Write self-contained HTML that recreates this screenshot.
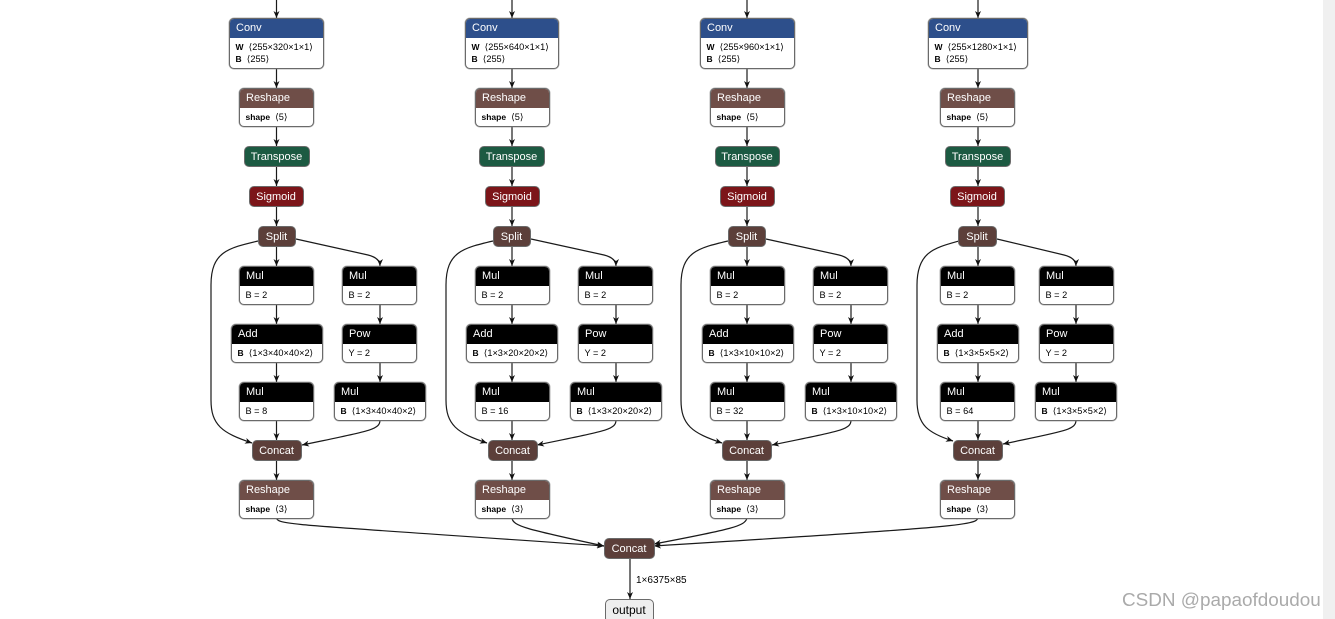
<!DOCTYPE html>
<html><head><meta charset="utf-8"><style>
html,body{margin:0;padding:0;background:#fff}
#r{position:relative;width:1335px;height:619px;overflow:hidden;background:#fff;font-family:"Liberation Sans","DejaVu Sans",sans-serif}
svg{position:absolute;left:0;top:0}
.n{position:absolute;box-sizing:border-box;border:1px solid #6a6a6a;border-radius:5px;background:#fff;overflow:hidden;height:38.5px;width:75px;box-shadow:0 0 0 .5px rgba(120,120,120,.55)}
.n.c{height:50.5px;width:95px}
.h{height:19px;line-height:19px;color:#fff;font-size:11px;padding-left:6px;background:#000}
.b{font-size:9.2px;line-height:12.5px;padding:2.5px 0 0 5.5px;white-space:pre;color:#000}
.b b{font-size:8.5px}
.cv{background:#2d4f8b}.rs{background:#6f4e48}
.p{position:absolute;box-sizing:border-box;border:1px solid #6a6a6a;border-radius:5px;height:20.5px;line-height:20px;text-align:center;color:#fff;font-size:11px;padding-right:1px}
.t{background:#1c5a42}.s{background:#7c1519}.k{background:#5c3f3a}
.o{background:#eee;color:#000;font-size:12px}
</style></head><body><div id="r">
<svg width="1335" height="619" viewBox="0 0 1335 619">
<defs><marker id="a" markerWidth="8" markerHeight="8" refX="7" refY="4" orient="auto" markerUnits="userSpaceOnUse"><path d="M0,1 L7,4 L0,7 L2,4 Z" fill="#111"/></marker></defs>
<g fill="none" stroke="#1a1a1a" stroke-width="1.2" marker-end="url(#a)">
<path d="M276.5,0V18"/><path d="M276.5,68V88"/><path d="M276.5,126V146"/><path d="M276.5,166V186"/><path d="M276.5,206V226"/><path d="M276.5,246V266"/><path d="M296,239 L368,255 Q380,258 380,266"/><path d="M258,241 C228,248 211,252 211,285 V400 C211,425 222,433 252,443"/><path d="M276.5,304V324"/><path d="M380,304V324"/><path d="M276.5,362V382"/><path d="M380,362V382"/><path d="M276.5,420V440"/><path d="M380,420 C380,430 369,431 302,445"/><path d="M276.5,460V480"/>
<path d="M512,0V18"/><path d="M512,68V88"/><path d="M512,126V146"/><path d="M512,166V186"/><path d="M512,206V226"/><path d="M512,246V266"/><path d="M531,239 L604,255 Q616,258 616,266"/><path d="M493,241 C463,248 446,252 446,285 V400 C446,425 457,433 487,443"/><path d="M512,304V324"/><path d="M616,304V324"/><path d="M512,362V382"/><path d="M616,362V382"/><path d="M512,420V440"/><path d="M616,420 C616,430 605,431 537,445"/><path d="M512,460V480"/>
<path d="M747,0V18"/><path d="M747,68V88"/><path d="M747,126V146"/><path d="M747,166V186"/><path d="M747,206V226"/><path d="M747,246V266"/><path d="M766,239 L839,255 Q851,258 851,266"/><path d="M728,241 C698,248 681,252 681,285 V400 C681,425 692,433 722,443"/><path d="M747,304V324"/><path d="M851,304V324"/><path d="M747,362V382"/><path d="M851,362V382"/><path d="M747,420V440"/><path d="M851,420 C851,430 840,431 772,445"/><path d="M747,460V480"/>
<path d="M978,0V18"/><path d="M978,68V88"/><path d="M978,126V146"/><path d="M978,166V186"/><path d="M978,206V226"/><path d="M978,246V266"/><path d="M997,239 L1064,255 Q1076,258 1076,266"/><path d="M959,241 C934,248 917,252 917,285 V400 C917,425 928,433 953,441"/><path d="M978,304V324"/><path d="M1076,304V324"/><path d="M978,362V382"/><path d="M1076,362V382"/><path d="M978,420V440"/><path d="M1076,420 C1076,430 1065,431 1003,444"/><path d="M978,460V480"/>
<path d="M276.5,518 C278,525 290,524 604,546"/><path d="M512,518 C513,526 525,529 604,546"/><path d="M747,518 C745,526 733,529 654,544"/><path d="M978,518 C976,525 960,527 654,546"/><path d="M630,558V599"/>
</g>
<text x="636" y="583" font-size="10" fill="#000" font-family="Liberation Sans, sans-serif">1×6375×85</text>
<rect x="1323" y="0" width="12" height="619" fill="#f0f0f0"/>
<text x="1122" y="606" font-size="18.9" fill="#aaa" font-family="Liberation Sans, sans-serif">CSDN @papaofdoudou</text>
</svg>

<div class="n c" style="left:229px;top:18px"><div class="h cv">Conv</div><div class="b"><b>W</b>  ⟨255×320×1×1⟩
<b>B</b>  ⟨255⟩</div></div>
<div class="n" style="left:239px;top:88px"><div class="h rs">Reshape</div><div class="b"><b>shape</b>  ⟨5⟩</div></div>
<div class="p t" style="left:244px;top:146px;width:66px">Transpose</div>
<div class="p s" style="left:249px;top:186px;width:55px">Sigmoid</div>
<div class="p k" style="left:258px;top:226px;width:38px">Split</div>
<div class="n" style="left:239px;top:266px"><div class="h">Mul</div><div class="b">B = 2</div></div>
<div class="n" style="left:342px;top:266px"><div class="h">Mul</div><div class="b">B = 2</div></div>
<div class="n" style="left:231px;top:324px;width:92px"><div class="h">Add</div><div class="b"><b>B</b>  ⟨1×3×40×40×2⟩</div></div>
<div class="n" style="left:342px;top:324px"><div class="h">Pow</div><div class="b">Y = 2</div></div>
<div class="n" style="left:239px;top:382px"><div class="h">Mul</div><div class="b">B = 8</div></div>
<div class="n" style="left:334px;top:382px;width:92px"><div class="h">Mul</div><div class="b"><b>B</b>  ⟨1×3×40×40×2⟩</div></div>
<div class="p k" style="left:252px;top:440px;width:50px">Concat</div>
<div class="n" style="left:239px;top:480px"><div class="h rs">Reshape</div><div class="b"><b>shape</b>  ⟨3⟩</div></div>

<div class="n c" style="left:465px;top:18px;width:94px"><div class="h cv">Conv</div><div class="b"><b>W</b>  ⟨255×640×1×1⟩
<b>B</b>  ⟨255⟩</div></div>
<div class="n" style="left:475px;top:88px"><div class="h rs">Reshape</div><div class="b"><b>shape</b>  ⟨5⟩</div></div>
<div class="p t" style="left:479px;top:146px;width:66px">Transpose</div>
<div class="p s" style="left:485px;top:186px;width:55px">Sigmoid</div>
<div class="p k" style="left:493px;top:226px;width:38px">Split</div>
<div class="n" style="left:475px;top:266px"><div class="h">Mul</div><div class="b">B = 2</div></div>
<div class="n" style="left:578px;top:266px"><div class="h">Mul</div><div class="b">B = 2</div></div>
<div class="n" style="left:466px;top:324px;width:92px"><div class="h">Add</div><div class="b"><b>B</b>  ⟨1×3×20×20×2⟩</div></div>
<div class="n" style="left:578px;top:324px"><div class="h">Pow</div><div class="b">Y = 2</div></div>
<div class="n" style="left:475px;top:382px"><div class="h">Mul</div><div class="b">B = 16</div></div>
<div class="n" style="left:570px;top:382px;width:92px"><div class="h">Mul</div><div class="b"><b>B</b>  ⟨1×3×20×20×2⟩</div></div>
<div class="p k" style="left:488px;top:440px;width:50px">Concat</div>
<div class="n" style="left:475px;top:480px"><div class="h rs">Reshape</div><div class="b"><b>shape</b>  ⟨3⟩</div></div>

<div class="n c" style="left:700px;top:18px;width:95px"><div class="h cv">Conv</div><div class="b"><b>W</b>  ⟨255×960×1×1⟩
<b>B</b>  ⟨255⟩</div></div>
<div class="n" style="left:710px;top:88px"><div class="h rs">Reshape</div><div class="b"><b>shape</b>  ⟨5⟩</div></div>
<div class="p t" style="left:715px;top:146px;width:65px">Transpose</div>
<div class="p s" style="left:720px;top:186px;width:55px">Sigmoid</div>
<div class="p k" style="left:728px;top:226px;width:38px">Split</div>
<div class="n" style="left:710px;top:266px"><div class="h">Mul</div><div class="b">B = 2</div></div>
<div class="n" style="left:813px;top:266px"><div class="h">Mul</div><div class="b">B = 2</div></div>
<div class="n" style="left:702px;top:324px;width:92px"><div class="h">Add</div><div class="b"><b>B</b>  ⟨1×3×10×10×2⟩</div></div>
<div class="n" style="left:813px;top:324px"><div class="h">Pow</div><div class="b">Y = 2</div></div>
<div class="n" style="left:710px;top:382px"><div class="h">Mul</div><div class="b">B = 32</div></div>
<div class="n" style="left:805px;top:382px;width:92px"><div class="h">Mul</div><div class="b"><b>B</b>  ⟨1×3×10×10×2⟩</div></div>
<div class="p k" style="left:722px;top:440px;width:50px">Concat</div>
<div class="n" style="left:710px;top:480px"><div class="h rs">Reshape</div><div class="b"><b>shape</b>  ⟨3⟩</div></div>

<div class="n c" style="left:928px;top:18px;width:100px"><div class="h cv">Conv</div><div class="b"><b>W</b>  ⟨255×1280×1×1⟩
<b>B</b>  ⟨255⟩</div></div>
<div class="n" style="left:940px;top:88px"><div class="h rs">Reshape</div><div class="b"><b>shape</b>  ⟨5⟩</div></div>
<div class="p t" style="left:945px;top:146px;width:66px">Transpose</div>
<div class="p s" style="left:950px;top:186px;width:55px">Sigmoid</div>
<div class="p k" style="left:958px;top:226px;width:39px">Split</div>
<div class="n" style="left:940px;top:266px"><div class="h">Mul</div><div class="b">B = 2</div></div>
<div class="n" style="left:1039px;top:266px"><div class="h">Mul</div><div class="b">B = 2</div></div>
<div class="n" style="left:937px;top:324px;width:82px"><div class="h">Add</div><div class="b"><b>B</b>  ⟨1×3×5×5×2⟩</div></div>
<div class="n" style="left:1039px;top:324px"><div class="h">Pow</div><div class="b">Y = 2</div></div>
<div class="n" style="left:940px;top:382px"><div class="h">Mul</div><div class="b">B = 64</div></div>
<div class="n" style="left:1035px;top:382px;width:82px"><div class="h">Mul</div><div class="b"><b>B</b>  ⟨1×3×5×5×2⟩</div></div>
<div class="p k" style="left:953px;top:440px;width:50px">Concat</div>
<div class="n" style="left:940px;top:480px"><div class="h rs">Reshape</div><div class="b"><b>shape</b>  ⟨3⟩</div></div>

<div class="p k" style="left:604px;top:538px;width:51px">Concat</div>
<div class="p o" style="left:605px;top:599px;width:49px;height:24px">output</div>
</div></body></html>
